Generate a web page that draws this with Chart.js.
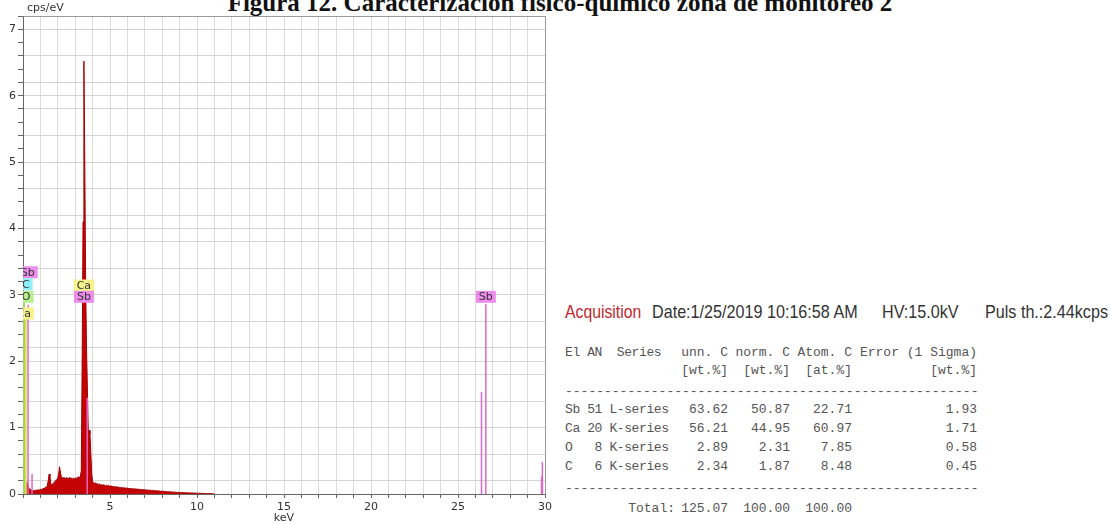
<!DOCTYPE html>
<html><head><meta charset="utf-8">
<script src="https://cdn.jsdelivr.net/npm/chart.js@4/dist/chart.umd.min.js"></script>
<style>
html,body{margin:0;padding:0;background:#fff;width:1110px;height:525px;overflow:hidden;position:relative;}
#wrap{position:absolute;left:0;top:0;width:555px;height:525px;}
#title{position:absolute;left:0;width:1120px;top:-10px;text-align:center;font:bold 25px/25px "Liberation Serif",serif;color:#111;white-space:nowrap;}
#unit{position:absolute;left:27px;top:1px;font:11px/13px "DejaVu Sans",sans-serif;color:#333;}
.acq{position:absolute;top:302px;font:19px/20px "Liberation Sans",Arial,sans-serif;color:#333;transform:scaleX(0.85);transform-origin:0 0;white-space:nowrap;}
.mono{position:absolute;font:13px/15px "Liberation Mono",monospace;color:#555;white-space:pre;}
.tight{letter-spacing:-0.4px;}
</style></head>
<body>
<div id="title">Figura 12. Caracterización físico-químico zona de monitoreo 2</div>
<div id="wrap"><canvas id="c" width="555" height="525" style="width:555px;height:525px"></canvas></div>
<div id="unit">cps/eV</div>
<div class="acq" style="left:565px;color:#c1272d;transform:scaleX(0.83)">Acquisition</div>
<div class="acq" style="left:652px">Date:1/25/2019 10:16:58 AM</div>
<div class="acq" style="left:882px">HV:15.0kV</div>
<div class="acq" style="left:985px">Puls th.:2.44kcps</div>
<div id="table"></div>
<script>
// ---- data ----
const channelStartKeV = 0;
const channelWidthKeV = 0.05;
const spectrumCounts = [
  0, 0, 0.02, 0.08, 0.14, 0.18, 0.12, 0.08, 0.06, 0.05, 0.06, 0.05, 0.05, 0.055, 0.05, 0.06, 0.055, 0.06, 0.065, 0.06,
  0.07, 0.065, 0.075, 0.08, 0.085, 0.09, 0.1, 0.11, 0.13, 0.2, 0.3, 0.26, 0.16, 0.14, 0.15, 0.16, 0.18, 0.19, 0.21, 0.22,
  0.24, 0.3, 0.41, 0.33, 0.26, 0.25, 0.24, 0.25, 0.24, 0.23, 0.25, 0.24, 0.23, 0.24, 0.25, 0.23, 0.24, 0.22, 0.24, 0.23,
  0.24, 0.23, 0.25, 0.24, 0.26, 0.25, 0.27, 0.35, 2.0, 4.1, 6.52, 5.0, 3.2, 2.2, 1.6, 0.95, 0.96, 0.9, 0.6, 0.3,
  0.19, 0.17, 0.16, 0.17, 0.15, 0.16, 0.15, 0.14, 0.15, 0.14, 0.14, 0.13, 0.14, 0.13, 0.13, 0.12, 0.13, 0.12, 0.13, 0.12,
  0.12, 0.115, 0.12, 0.11, 0.115, 0.11, 0.105, 0.11, 0.1, 0.105, 0.1, 0.1, 0.095, 0.1, 0.095, 0.09, 0.095, 0.09, 0.09, 0.085,
  0.09, 0.085, 0.085, 0.08, 0.085, 0.08, 0.08, 0.075, 0.08, 0.075, 0.075, 0.07, 0.075, 0.07, 0.07, 0.068, 0.065, 0.068, 0.065, 0.062,
  0.065, 0.06, 0.062, 0.058, 0.06, 0.055, 0.058, 0.055, 0.052, 0.055, 0.05, 0.052, 0.048, 0.05, 0.046, 0.048, 0.044, 0.045, 0.042, 0.044,
  0.04, 0.042, 0.038, 0.04, 0.036, 0.037, 0.034, 0.035, 0.032, 0.033, 0.03, 0.031, 0.028, 0.03, 0.027, 0.028, 0.025, 0.026, 0.024, 0.025,
  0.023, 0.024, 0.022, 0.022, 0.02, 0.021, 0.019, 0.02, 0.018, 0.018, 0.017, 0.017, 0.016, 0.016, 0.015, 0.015, 0.014, 0.014, 0.013, 0.013,
  0.012, 0.012, 0.011, 0.011, 0.01, 0.01, 0.009, 0.009, 0.008, 0.008, 0.008, 0.007, 0.007, 0.006, 0.006, 0.006, 0.005, 0.005, 0.004, 0.004,
  0
];
const markerElements = ['O', 'C', 'Ca', 'Sb', 'Sb', 'Sb', 'Sb', 'Sb', 'Sb', 'Sb'];
const markerEnergies = [0.06, 0.03, 0.13, 0.29, 0.52, 3.69, 26.35, 26.60, 29.80, 29.85];
const markerHeights  = [2.90, 3.05, 2.68, 2.85, 0.30, 1.45, 1.54, 2.86, 0.26, 0.48];
const labelElements = ['Sb', 'C', 'O', 'Ca', 'Ca', 'Sb', 'Sb'];
const labelEnergies = [0.27, 0.16, 0.18, 0.04, 3.50, 3.50, 26.60];
const labelLevels   = [3.34, 3.16, 2.97, 2.72, 3.14, 2.97, 2.97];
const xTickLabels = [5, 10, 15, 20, 25, 30];
const yTickLabels = [0, 1, 2, 3, 4, 5, 6, 7];

// quantification table
const tableHeaderLeft = 'El AN  Series';
const tableHeader = ['unn. C', 'norm. C', 'Atom. C', 'Error (1 Sigma)'];
const tableUnits  = ['[wt.%]', '[wt.%]', '[at.%]', '[wt.%]'];
const tableEl     = ['Sb', 'Ca', 'O ', 'C '];
const tableAN     = ['51', '20', ' 8', ' 6'];
const tableSeries = ['L-series', 'K-series', 'K-series', 'K-series'];
const tableUnn    = ['63.62', '56.21', '2.89', '2.34'];
const tableNorm   = ['50.87', '44.95', '2.31', '1.87'];
const tableAtom   = ['22.71', '60.97', '7.85', '8.48'];
const tableErr    = ['1.93', '1.71', '0.58', '0.45'];
const tableTotal  = ['Total:', '125.07', '100.00', '100.00'];

// ---- table layout ----
(function(){
  const T = document.getElementById('table');
  const add = (txt, top, left, right, cls) => {
    const d = document.createElement('div');
    d.className = 'mono' + (cls ? ' ' + cls : ''); d.textContent = txt; d.style.top = top + 'px';
    if (right != null) d.style.right = (1110 - right) + 'px'; else d.style.left = left + 'px';
    T.appendChild(d);
  };
  const colRight = [728, 790, 852, 977];
  const hdrTop = 345;
  add(tableHeaderLeft, hdrTop, 565, null, 'tight');
  for (let c = 0; c < 4; c++) add(tableHeader[c], hdrTop, null, colRight[c]);
  for (let c = 0; c < 4; c++) add(tableUnits[c], 363, null, colRight[c]);
  const dash = '-'.repeat(53);
  add(dash, 384, 565); add(dash, 481, 565);
  const rowTops = [402, 421, 440, 459];
  tableEl.forEach((el, r) => {
    const t = rowTops[r];
    add(el + ' ' + tableAN[r] + ' ' + tableSeries[r], t, 565, null, 'tight');
    add(tableUnn[r], t, null, colRight[0]); add(tableNorm[r], t, null, colRight[1]);
    add(tableAtom[r], t, null, colRight[2]); add(tableErr[r], t, null, colRight[3]);
  });
  add(tableTotal[0], 501, null, 675);
  for (let c = 1; c < 4; c++) add(tableTotal[c], 501, null, colRight[c - 1]);
})();

// ---- styles ----
const LINE_COL = {Sb:'#e066c8', Ca:'#e4e048', O:'#9ad862', C:'#7edcea'};
const LINE_W   = {Sb:1.5, Ca:3, O:2, C:1.5};
const BOX_COL  = {Sb:'#ee8cee', Ca:'#f6f28c', O:'#b6f08e', C:'#90f0fa'};

const spectrumPoints = spectrumCounts.map((v, i) => ({x: channelStartKeV + i * channelWidthKeV, y: v}));
const datasets = [{
  data: spectrumPoints, borderColor:'#a20000', backgroundColor:'#c40404', borderWidth:1,
  fill:'origin', pointRadius:0, tension:0, order:2
}];
markerElements.forEach((el, i) => {
  datasets.push({
    data:[{x:markerEnergies[i], y:0}, {x:markerEnergies[i], y:markerHeights[i]}],
    borderColor: LINE_COL[el], borderWidth: LINE_W[el],
    pointRadius:0, fill:false, order:1
  });
});

const labelPlugin = {
  id:'elemLabels',
  afterDatasetsDraw(chart){
    const {ctx, chartArea:a, scales:{x, y}} = chart;
    ctx.save();
    ctx.beginPath(); ctx.rect(a.left, a.top, a.right - a.left, a.bottom - a.top); ctx.clip();
    ctx.font = '11px "DejaVu Sans"';
    ctx.textAlign = 'center'; ctx.textBaseline = 'middle';
    labelElements.forEach((el, i) => {
      const px = x.getPixelForValue(labelEnergies[i]);
      const py = y.getPixelForValue(labelLevels[i]);
      const w = ctx.measureText(el).width + 6, h = 12;
      ctx.fillStyle = BOX_COL[el];
      ctx.fillRect(px - w / 2, py - h / 2, w, h);
      ctx.fillStyle = '#333';
      ctx.fillText(el, px, py + 0.5);
    });
    ctx.restore();
  },
  afterDraw(chart){
    const {ctx, chartArea:a} = chart;
    ctx.save();
    ctx.strokeStyle = '#9a9a9a'; ctx.lineWidth = 1;
    ctx.beginPath();
    ctx.moveTo(Math.round(a.left) + 0.5, Math.round(a.top) + 0.5);
    ctx.lineTo(Math.round(a.right) + 0.5, Math.round(a.top) + 0.5);
    ctx.lineTo(Math.round(a.right) + 0.5, Math.round(a.bottom) + 0.5);
    ctx.stroke();
    ctx.restore();
  }
};

const font = {family:'DejaVu Sans', size:11};
new Chart(document.getElementById('c'), {
  type:'line',
  data:{datasets},
  plugins:[labelPlugin],
  options:{
    responsive:false, animation:false, devicePixelRatio:1,
    layout:{padding:{left:0, right:10, top:16, bottom:0}},
    plugins:{legend:{display:false}, tooltip:{enabled:false}},
    scales:{
      x:{
        type:'linear', min:0, max:30,
        afterBuildTicks: s => { const t = []; for (let k = 0; k <= 30; k++) t.push({value:k}); s.ticks = t; },
        afterFit: s => { s.height = 31; },
        ticks:{autoSkip:false, maxRotation:0, padding:3, color:'#333', font,
          callback: v => xTickLabels.includes(v) ? String(v) : ''},
        grid:{color:'#dcdcdc', tickLength:4, tickColor:'#666'},
        border:{color:'#666'},
        title:{display:true, text:'keV', color:'#333', font, padding:{top:0, bottom:0}}
      },
      y:{
        type:'linear', min:0, max:7.2,
        afterBuildTicks: s => { const t = []; for (let k = 0; k <= 36; k++) t.push({value:k / 5}); s.ticks = t; },
        afterFit: s => { s.width = 23; },
        ticks:{autoSkip:false, padding:2, color:'#333', font,
          callback: v => { const r = Math.round(v); return (Math.abs(v - r) < 1e-6 && yTickLabels.includes(r)) ? String(r) : ''; }},
        grid:{
          color: c => { const k = Math.round(c.tick.value * 5); return (k % 5 === 0 || k % 2 === 1) ? '#d4d4d4' : 'rgba(0,0,0,0)'; },
          tickLength:5, tickColor:'#666'
        },
        border:{color:'#666'}
      }
    }
  }
});
</script>
</body></html>
